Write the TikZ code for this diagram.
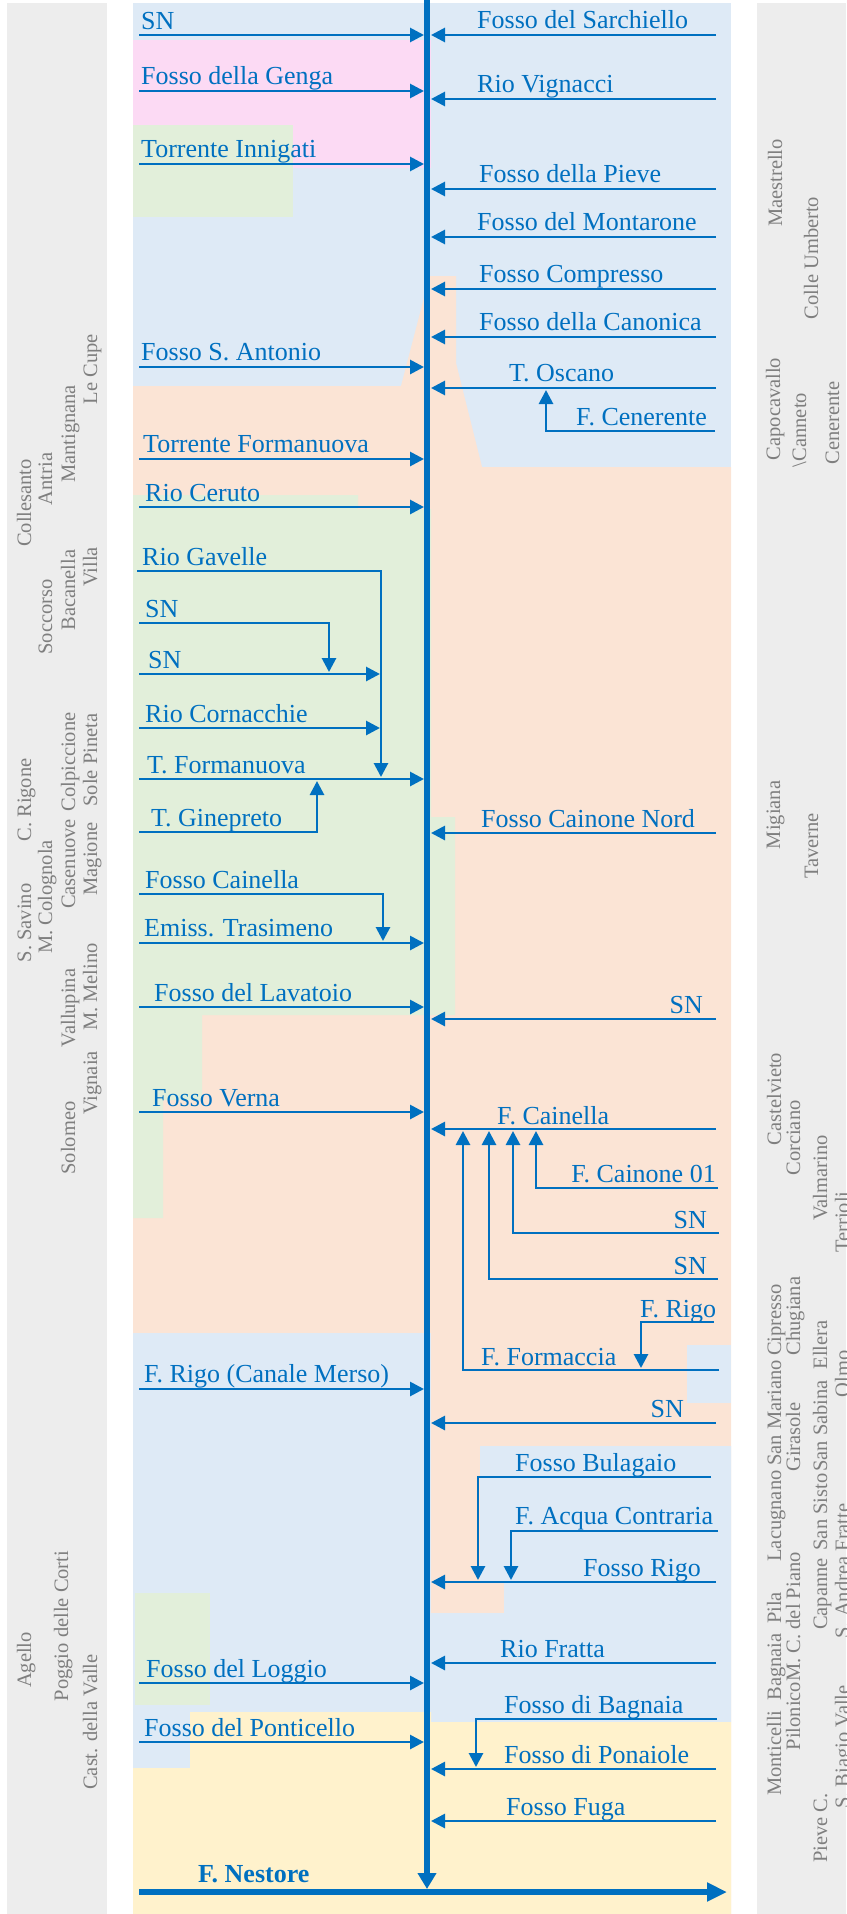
\documentclass[tikz,border=0pt]{standalone}
\usepackage{fontspec}
\setmainfont{Liberation Serif}
\usetikzlibrary{arrows.meta}
\definecolor{rblue}{HTML}{0070C0}
\definecolor{bgblue}{HTML}{DEEAF6}
\definecolor{bgpink}{HTML}{FCDAF4}
\definecolor{bggreen}{HTML}{E2EFDA}
\definecolor{bgpeach}{HTML}{FBE4D5}
\definecolor{bgyellow}{HTML}{FFF2CC}
\definecolor{bggray}{HTML}{EDEDED}
\definecolor{sidegray}{HTML}{7F7F7F}
\tikzset{
  trib/.style={draw=rblue, line width=2.8pt, -{Triangle[length=14pt,width=14pt]}},
  lbl/.style={text=rblue, font=\fontsize{26}{30}\selectfont, inner sep=0pt, anchor=base west},
  lblr/.style={lbl, anchor=base east},
  side/.style={text=sidegray, font=\fontsize{20.5}{24}\selectfont, inner sep=0pt, rotate=90, anchor=base},
}
\begin{document}
\begin{tikzpicture}[x=1pt,y=-1pt]
\useasboundingbox (0,0) rectangle (846,1914);
% sidebars
\fill[bggray] (7,3) rectangle (107,1914);
\fill[bggray] (757,3) rectangle (846,1914);
% backgrounds
\fill[bgblue] (133,3) rectangle (731,1914);
\fill[bgpeach] (133,386) -- (401,386) -- (426,290) -- (426,276) -- (456,276) -- (456,363) -- (482,467) -- (731,467) -- (731,1914) -- (133,1914) -- cycle;
\fill[bgpink] (133,40) rectangle (431,168);
\fill[bggreen] (133,125) rectangle (293,217);
\fill[bggreen] (133,495) -- (358,495) -- (358,509) -- (431,509) -- (431,817) -- (455,817) -- (455,1015) -- (202,1015) -- (202,1100) -- (163,1100) -- (163,1218) -- (133,1218) -- cycle;
\fill[bgblue] (133,1333) rectangle (431,1768);
\fill[bgblue] (480,1446) -- (731,1446) -- (731,1722) -- (431,1722) -- (431,1613) -- (504,1613) -- (504,1583) -- (480,1583) -- cycle;
\fill[bgblue] (687,1345) rectangle (731,1403);
\fill[bggreen] (135,1593) rectangle (210,1705);
\fill[bgyellow] (190,1712) -- (431,1712) -- (431,1722) -- (731,1722) -- (731,1914) -- (133,1914) -- (133,1768) -- (190,1768) -- cycle;

% left sidebar texts
\node[side] (sl1) at (97,369) {Le Cupe};
\node[side] (sl2) at (75,434) {Mantignana};
\node[side] (sl3) at (52,479) {Antria};
\node[side] (sl4) at (31,503) {Collesanto};
\node[side] (sl5) at (97,567) {Villa};
\node[side] (sl6) at (75,590) {Bacanella};
\node[side] (sl7) at (52,617) {Soccorso};
\node[side] (sl8) at (97,760) {Sole Pineta};
\node[side] (sl9) at (75,762) {Colpiccione};
\node[side] (sl10) at (31,800) {C. Rigone};
\node[side] (sl11) at (97,859) {Magione};
\node[side] (sl12) at (75,864) {Casenuove};
\node[side] (sl13) at (52,897) {M. Colognola};
\node[side] (sl14) at (31,923) {S. Savino};
\node[side] (sl15) at (97,987) {M. Melino};
\node[side] (sl16) at (75,1008) {Vallupina};
\node[side] (sl17) at (97,1083) {Vignaia};
\node[side] (sl18) at (75,1138) {Solomeo};
\node[side] (sl19) at (31,1660) {Agello};
\node[side] (sl20) at (68,1626) {Poggio delle Corti};
\node[side] (sl21) at (97,1722) {Cast. della Valle};

% right sidebar texts
\node[side] (sr1) at (782,183) {Maestrello};
\node[side] (sr2) at (818,258) {Colle Umberto};
\node[side] (sr3) at (780,409) {Capocavallo};
\node[side] (sr4) at (806,430) {\textbackslash Canneto};
\node[side] (sr5) at (839,423) {Cenerente};
\node[side] (sr6) at (780,815) {Migiana};
\node[side] (sr7) at (818,846) {Taverne};
\node[side] (sr8) at (781,1099) {Castelvieto};
\node[side] (sr9) at (800,1138) {Corciano};
\node[side] (sr10) at (827,1178) {Valmarino};
\node[side] (sr11) at (849,1222) {Terrioli};
\node[side] (sr12) at (781,1320) {Cipresso};
\node[side] (sr13) at (800,1316) {Chugiana};
\node[side] (sr14) at (827,1345) {Ellera};
\node[side] (sr15) at (849,1374) {Olmo};
\node[side] (sr16) at (781,1413) {San Mariano};
\node[side] (sr17) at (800,1437) {Girasole};
\node[side] (sr18) at (827,1426) {San Sabina};
\node[side] (sr19) at (781,1516) {Lacugnano};
\node[side] (sr20) at (827,1512) {San Sisto};
\node[side] (sr21) at (849,1571) {S. Andrea Fratte};
\node[side] (sr22) at (781,1608) {Pila};
\node[side] (sr23) at (800,1617) {M. C. del Piano};
\node[side] (sr24) at (827,1594) {Capanne};
\node[side] (sr25) at (781,1667) {Bagnaia};
\node[side] (sr26) at (800,1716) {Pilonico};
\node[side] (sr27) at (781,1753) {Monticelli};
\node[side] (sr28) at (827,1828) {Pieve C.};
\node[side] (sr29) at (849,1747) {S. Biagio Valle};

% main river
\coordinate (mtop) at (427,0);
\coordinate (mbot) at (427,1889);
\draw[draw=rblue, line width=5.5pt, -{Triangle[length=16pt,width=18pt]}] (mtop) -- (mbot);

% left straight tributaries
\foreach \n/\y/\tx/\ty/\t in {1/35/141/29/SN, 2/91/141/84/Fosso della Genga, 3/164/141/157/Torrente Innigati, 4/367/141/360/Fosso S. Antonio, 5/459/143/452/Torrente Formanuova, 6/507/145/501/Rio Ceruto, 7/779/147/773/T. Formanuova, 8/943/144/936/Emiss. Trasimeno, 9/1007/154/1001/Fosso del Lavatoio, 10/1112/152/1106/Fosso Verna, 11/1389/144/1382/F. Rigo (Canale Merso), 12/1683/146/1677/Fosso del Loggio, 13/1742/144/1736/Fosso del Ponticello}{
  \coordinate (Ls\n) at (139,\y);
  \coordinate (Le\n) at (424,\y);
  \draw[trib] (Ls\n) -- (Le\n);
  \node[lbl] (Lt\n) at (\tx,\ty) {\t};
}

% right straight tributaries
\foreach \n/\y/\tx/\ty/\t in {1/35/477/28/Fosso del Sarchiello, 2/99/477/92/Rio Vignacci, 3/189/479/182/Fosso della Pieve, 4/237/477/230/Fosso del Montarone, 5/289/479/282/Fosso Compresso, 6/337/479/330/Fosso della Canonica, 7/388/509/381/T. Oscano, 8/833/481/827/Fosso Cainone Nord, 9/1129/497/1124/F. Cainella, 10/1582/583/1576/Fosso Rigo, 11/1663/500/1657/Rio Fratta, 12/1769/504/1763/Fosso di Ponaiole, 13/1821/506/1815/Fosso Fuga}{
  \coordinate (Rs\n) at (716,\y);
  \coordinate (Re\n) at (431,\y);
  \draw[trib] (Rs\n) -- (Re\n);
  \node[lbl] (Rt\n) at (\tx,\ty) {\t};
}
\foreach \n/\y/\tx/\ty/\t in {14/1019/703/1013/SN, 15/1423/684/1417/SN}{
  \coordinate (Rs\n) at (716,\y);
  \coordinate (Re\n) at (431,\y);
  \draw[trib] (Rs\n) -- (Re\n);
  \node[lblr] (Rt\n) at (\tx,\ty) {\t};
}

% left branched tributaries
\coordinate (gav0) at (137,571); \coordinate (gav1) at (381,777);
\draw[trib] (gav0) -| (gav1);
\node[lbl] (gavt) at (142,565) {Rio Gavelle};
\coordinate (sna0) at (139,623); \coordinate (sna1) at (329,672);
\draw[trib] (sna0) -| (sna1);
\node[lbl] (snat) at (145,617) {SN};
\coordinate (snb0) at (139,674); \coordinate (snb1) at (380,674);
\draw[trib] (snb0) -- (snb1);
\node[lbl] (snbt) at (148,668) {SN};
\coordinate (cor0) at (139,728); \coordinate (cor1) at (380,728);
\draw[trib] (cor0) -- (cor1);
\node[lbl] (cort) at (145,722) {Rio Cornacchie};
\coordinate (gin0) at (139,832); \coordinate (gin1) at (317,781);
\draw[trib] (gin0) -| (gin1);
\node[lbl] (gint) at (151,826) {T. Ginepreto};
\coordinate (cai0) at (139,894); \coordinate (cai1) at (383,941);
\draw[trib] (cai0) -| (cai1);
\node[lbl] (cait) at (145,888) {Fosso Cainella};

% right branched tributaries
\coordinate (cen0) at (715,431); \coordinate (cen1) at (546,390);
\draw[trib] (cen0) -| (cen1);
\node[lbl] (cent) at (576,425) {F. Cenerente};
\coordinate (c01a) at (718,1188); \coordinate (c01b) at (536,1131);
\draw[trib] (c01a) -| (c01b);
\node[lblr] (c01t) at (716,1182) {F. Cainone 01};
\coordinate (sn2a) at (719,1233); \coordinate (sn2b) at (513,1131);
\draw[trib] (sn2a) -| (sn2b);
\node[lblr] (sn2t) at (707,1228) {SN};
\coordinate (sn3a) at (718,1279); \coordinate (sn3b) at (489,1131);
\draw[trib] (sn3a) -| (sn3b);
\node[lblr] (sn3t) at (707,1274) {SN};
\coordinate (for0) at (719,1370); \coordinate (for1) at (463,1131);
\draw[trib] (for0) -| (for1);
\node[lbl] (fort) at (481,1365) {F. Formaccia};
\coordinate (rig0) at (714,1322); \coordinate (rig1) at (641,1368);
\draw[trib] (rig0) -| (rig1);
\node[lbl] (rigt) at (640,1317) {F. Rigo};
\coordinate (bul0) at (711,1477); \coordinate (bul1) at (478,1580);
\draw[trib] (bul0) -| (bul1);
\node[lbl] (bult) at (515,1471) {Fosso Bulagaio};
\coordinate (acq0) at (718,1531); \coordinate (acq1) at (511,1580);
\draw[trib] (acq0) -| (acq1);
\node[lbl] (acqt) at (515,1524) {F. Acqua Contraria};
\coordinate (bag0) at (717,1719); \coordinate (bag1) at (476,1767);
\draw[trib] (bag0) -| (bag1);
\node[lbl] (bagt) at (504,1713) {Fosso di Bagnaia};

% Nestore
\coordinate (nes0) at (139,1892); \coordinate (nes1) at (727,1892);
\draw[draw=rblue, line width=6pt, -{Triangle[length=20pt,width=18pt]}] (nes0) -- (nes1);
\node[lbl, font=\bfseries\fontsize{26}{30}\selectfont] (nest) at (198,1882) {F. Nestore};
\end{tikzpicture}
\end{document}
